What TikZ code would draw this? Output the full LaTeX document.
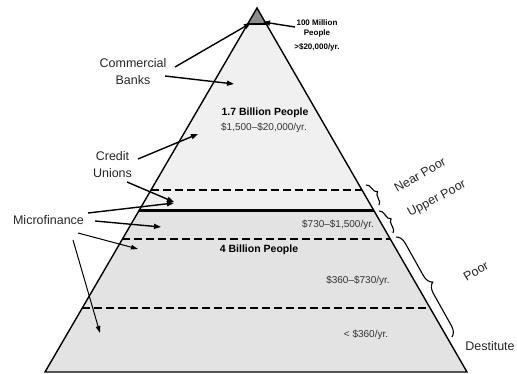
\documentclass[tikz,border=0pt]{standalone}
\usepackage{fontspec}
\setmainfont{Liberation Sans}
\usetikzlibrary{calc,arrows.meta,decorations.pathreplacing}
\begin{document}
\begin{tikzpicture}[x=1pt,y=-1pt,
  edge/.style={line width=1.4pt,line join=miter},
  divdash/.style={line width=2.5pt,dash pattern=on 7.5pt off 4.5pt},
  divsolid/.style={line width=3pt},
  arr/.style={line width=1.4pt,-{Triangle[length=7pt,width=5pt]}},
  thinarr/.style={line width=1pt,-{Triangle[length=7pt,width=4.5pt]}},
  lbl/.style={font=\fontsize{12.5}{16.5}\selectfont,align=center,inner sep=0pt,text=black!85},
  rlbl/.style={font=\fontsize{12.5}{15}\selectfont,inner sep=0pt,text=black!85},
  inb/.style={font=\bfseries\fontsize{10.5}{12}\selectfont,inner sep=0pt},
  inr/.style={font=\fontsize{10}{12}\selectfont,inner sep=0pt,text=black!80},
  topb/.style={font=\bfseries\fontsize{8}{9.5}\selectfont,align=center,inner sep=0pt},
  bracestyle/.style={line width=1.1pt,decorate,decoration={brace,amplitude=#1}}
]
\useasboundingbox (0,0) rectangle (517,374);
% pyramid vertices
\coordinate (A) at (257,8);
\coordinate (BL) at (45,372);
\coordinate (BR) at (467,372);
% level points
\coordinate (L0) at ($(A)!0.044!(BL)$);  \coordinate (R0) at ($(A)!0.044!(BR)$);
\coordinate (L1) at ($(A)!0.5!(BL)$);    \coordinate (R1) at ($(A)!0.5!(BR)$);
\coordinate (L2) at ($(A)!0.5577!(BL)$); \coordinate (R2) at ($(A)!0.5577!(BR)$);
\coordinate (L3) at ($(A)!0.6346!(BL)$); \coordinate (R3) at ($(A)!0.6346!(BR)$);
\coordinate (L4) at ($(A)!0.8242!(BL)$); \coordinate (R4) at ($(A)!0.8242!(BR)$);
% fills
\fill[black!6] (L0) -- (R0) -- (R2) -- (L2) -- cycle;
\fill[black!11] (L2) -- (R2) -- (BR) -- (BL) -- cycle;
\fill[black!45] (A) -- (R0) -- (L0) -- cycle;
% dividers
\draw[divdash] (L1) -- (R1);
\draw[divsolid] (L2) -- (R2);
\draw[divdash] (L3) -- (R3);
\draw[divdash] (L4) -- (R4);
\draw[line width=2.5pt] ($(L0)+(-1,0)$) -- ($(R0)+(1,0)$);
% outline
\draw[edge] (A) -- (BR) -- (BL) -- cycle;

% left labels
\node[lbl] (cb) at (133,71.5) {Commercial\\Banks};
\node[lbl] (cu) at (112.5,164.5) {Credit\\Unions};
\node[lbl] (mf) at (48.5,220) {Microfinance};
% top label
\node[topb] (hm) at (317,28.5) {100 Million\\People};
\node[topb] (hmi) at (317,47) {>\$20,000/yr.};

% arrow endpoints
\coordinate (cbs1) at (175,67);  \coordinate (cbe1) at (251,23);
\coordinate (cbs2) at (165,76);  \coordinate (cbe2) at (234,84);
\coordinate (hms) at (295,27);   \coordinate (hme) at (263,22);
\coordinate (cus1) at (138,159); \coordinate (cue1) at (198,134);
\coordinate (cus2) at (127,182); \coordinate (cue2) at (174,202);
\coordinate (mfs1) at (88,213);  \coordinate (mfe1) at (174,203);
\coordinate (mfs2) at (95,221);  \coordinate (mfe2) at (161,227);
\coordinate (mfs3) at (78,233);  \coordinate (mfe3) at (138,249);
\coordinate (mfs4) at (73,240);  \coordinate (mfe4) at (100,333);

\draw[arr] (cbs1) -- (cbe1);
\draw[arr] (cbs2) -- (cbe2);
\draw[arr] (hms) -- (hme);
\draw[arr] (cus1) -- (cue1);
\draw[arr] (cus2) -- (cue2);
\draw[arr] (mfs1) -- (mfe1);
\draw[arr] (mfs2) -- (mfe2);
\draw[thinarr] (mfs3) -- (mfe3);
\draw[thinarr] (mfs4) -- (mfe4);

% inside texts
\node[inb] (b17) at (265,113) {1.7 Billion People};
\node[inr] (i1) at (264,128) {\$1,500–\$20,000/yr.};
\node[inr] (i2) at (338,225) {\$730–\$1,500/yr.};
\node[inb] (b4) at (259,250) {4 Billion People};
\node[inr] (i3) at (358,281) {\$360–\$730/yr.};
\node[inr] (i4) at (366,335) {< \$360/yr.};

% braces
\coordinate (np1) at (366,185); \coordinate (np2) at (379,205);
\coordinate (up1) at (379,211); \coordinate (up2) at (393,233);
\coordinate (po1) at (396,237); \coordinate (po2) at (452,337);
\draw[bracestyle=6pt] (np1) -- (np2);
\draw[bracestyle=6pt] (up1) -- (up2);
\draw[bracestyle=10pt] (po1) -- (po2);

% right labels
\node[rlbl,rotate=30] (nplab) at (420,175) {Near Poor};
\node[rlbl,rotate=28] (uplab) at (437,199) {Upper Poor};
\node[rlbl,rotate=30] (polab) at (476,271) {Poor};
\node[rlbl] (delab) at (490,346) {Destitute};
\end{tikzpicture}
\end{document}
